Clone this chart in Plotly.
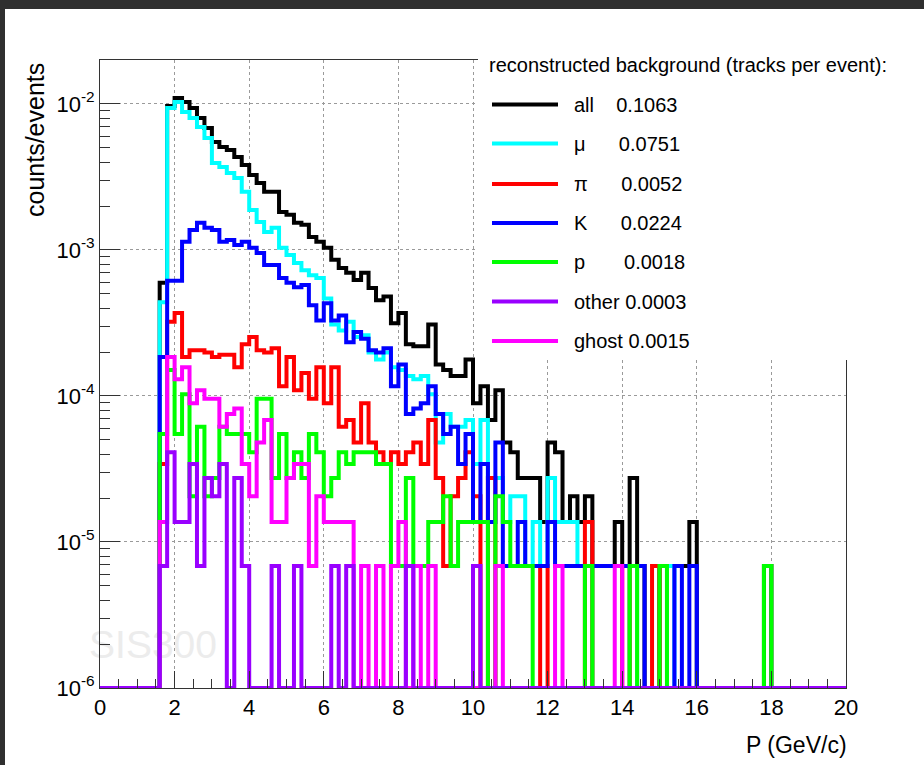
import numpy as np
import plotly.graph_objects as go

# ---------------- data ----------------
P_MIN, P_MAX, N_BINS = 0.0, 20.0, 100
FIRST_BIN = 8                 # first filled bin: P = 1.6 GeV/c
N_EVENTS = 146000.0           # histogram counts -> counts/events

counts_all = [87, 1415, 1604, 1507, 1371, 1171, 1000, 802, 741, 707,
              633, 558, 476, 420, 365, 365, 266, 254, 224, 217,
              179, 166, 151, 125, 110, 102, 91, 102, 80, 66,
              70, 46, 54, 33, 32, 32, 45, 24, 22, 20,
              20, 26, 13, 17, 10, 16, 7, 6, 4, 4,
              4, 2, 7, 6, 2, 3, 2, 3, 1, 1,
              1, 2, 1, 4, 1, 0, 0, 1, 1, 1,
              1, 2, 0, 0, 0, 0, 0, 0, 0, 0, 0, 1]
counts_mu = [64, 1371, 1507, 1288, 1171, 1016, 855, 576, 540, 492,
             455, 365, 274, 227, 194, 207, 151, 135, 119, 106,
             98, 94, 68, 45, 41, 47, 37, 38, 29, 26,
             29, 23, 22, 20, 19, 20, 15, 7, 11, 9,
             9, 10, 5, 10, 4, 4, 2, 3, 3, 1,
             2, 1, 4, 2, 2, 2, 1, 1, 0, 0,
             0, 0, 0, 1, 0, 0, 0, 0, 1, 0]
counts_pi = [5, 47, 54, 27, 30, 30, 29, 27, 28, 28,
             23, 33, 37, 30, 29, 31, 17, 27, 16, 21,
             14, 23, 13, 23, 9, 10, 7, 13, 7, 6,
             5, 6, 5, 6, 7, 5, 10, 4, 1, 3,
             4, 6, 3, 0, 4, 0, 0, 0, 0, 0,
             0, 1, 0, 0, 0, 0, 0, 2, 0, 0,
             0, 0, 1, 0, 0, 0, 1, 0, 0, 0]
counts_k = [27, 90, 90, 166, 200, 224, 207, 200, 166, 171,
            158, 166, 151, 139, 115, 115, 94, 87, 81, 84,
            61, 48, 63, 48, 52, 34, 40, 36, 30, 29,
            31, 17, 24, 11, 12, 13, 17, 11, 8, 9,
            5, 8, 2, 5, 2, 7, 1, 1, 2, 1,
            1, 1, 2, 1, 1, 1, 1, 1, 1, 1,
            1, 1, 1, 1, 1, 0, 0, 0, 0, 1, 0, 1]
counts_p = [8, 22, 8, 15, 3, 9, 3, 4, 9, 8,
            8, 8, 6, 14, 14, 4, 8, 4, 6, 4,
            8, 6, 3, 4, 6, 5, 6, 6, 6, 5,
            5, 1, 1, 4, 1, 1, 2, 2, 3, 1,
            2, 2, 2, 2, 0, 3, 2, 1, 1, 1,
            0, 0, 0, 0, 0, 0, 0, 1, 0, 0,
            0, 0, 0, 1, 0, 0, 0, 1, 0, 0,
            0, 0, 0, 0, 0, 0, 0, 0, 0, 0, 0, 1]
counts_ghost = [2, 27, 19, 23, 13, 16, 14, 14, 9, 11,
                12, 5, 3, 7, 10, 2, 2, 4, 5, 5,
                1, 3, 2, 2, 2, 2, 0, 1, 0, 1,
                0, 1, 2, 0, 1, 0, 1, 0, 0, 0,
                0, 0, 0, 0, 0, 1, 0, 0, 0, 0,
                0, 0, 0, 1, 0, 0, 0, 0, 0, 0,
                0, 1]
counts_other = [1, 6, 2, 2, 5, 1, 4, 3, 5, 0,
                4, 1, 0, 0, 0, 1, 0, 0, 1, 0,
                0, 0, 0, 1, 0, 1, 0, 0, 0, 0,
                0, 0, 0, 1, 0, 0, 0, 0, 0, 0,
                0, 0, 1]

legend_names = ["all", "μ", "π", "K", "p", "other", "ghost"]
legend_totals = ["0.1063", "0.0751", "0.0052", "0.0224", "0.0018", "0.0003", "0.0015"]
legend_title = "reconstructed background (tracks per event):"
x_tick_vals = [0, 2, 4, 6, 8, 10, 12, 14, 16, 18, 20]
y_tick_vals = [1e-6, 1e-5, 1e-4, 1e-3, 1e-2]
y_tick_text = ["10<sup>-6</sup>", "10<sup>-5</sup>", "10<sup>-4</sup>",
               "10<sup>-3</sup>", "10<sup>-2</sup>"]
Y_MIN, Y_MAX = 1e-6, 2e-2

# ---------------- style ----------------
colors = {"all": "#000000", "μ": "#00ffff", "π": "#ff0000", "K": "#0000ff",
          "p": "#00ff00", "other": "#9900ff", "ghost": "#ff00ff"}
series = {"all": counts_all, "μ": counts_mu, "π": counts_pi, "K": counts_k,
          "p": counts_p, "other": counts_other, "ghost": counts_ghost}
draw_order = ["all", "μ", "π", "K", "p", "ghost", "other"]
legend_pad = [4, 6, 6, 6, 7, 1, 1]
FONT = "Liberation Sans, Arial, sans-serif"

W, H = 924, 765
ML, MR, MT, MB = 100, 78, 60, 77
PW, PH = W - ML - MR, H - MT - MB


def fx(px):  # page pixel -> paper x
    return (px - ML) / PW


def fy(py):  # page pixel (from top) -> paper y
    return (H - MB - py) / PH


edges = np.linspace(P_MIN, P_MAX, N_BINS + 1)

fig = go.Figure()
for name in draw_order:
    c = np.zeros(N_BINS)
    vals = np.array(series[name], dtype=float)
    c[FIRST_BIN:FIRST_BIN + len(vals)] = vals
    v = c / N_EVENTS
    v = np.where(v > 0, v, Y_MIN)          # empty bins drawn at the axis minimum
    fig.add_trace(go.Scatter(
        x=edges, y=np.append(v, v[-1]), mode="lines",
        line=dict(shape="hv", width=4, color=colors[name]),
        showlegend=False, hoverinfo="skip"))

axis_common = dict(
    showline=True, linecolor="#333333", linewidth=1, mirror=True,
    ticks="inside", tickcolor="#333333", tickwidth=1,
    showgrid=True, gridcolor="#9a9a9a", gridwidth=1, griddash="dot",
    zeroline=False, tickfont=dict(family=FONT, size=22, color="black"),
)
fig.update_xaxes(range=[P_MIN, P_MAX], tickmode="array", tickvals=x_tick_vals,
                 ticklen=17,
                 minor=dict(dtick=0.5, ticks="inside", ticklen=9,
                            tickcolor="#333333", showgrid=False),
                 **axis_common)
fig.update_yaxes(type="log", range=[np.log10(Y_MIN), np.log10(Y_MAX)],
                 tickmode="array", tickvals=y_tick_vals, ticktext=y_tick_text,
                 ticklen=20,
                 minor=dict(dtick="D1", ticks="inside", ticklen=10,
                            tickcolor="#333333", showgrid=False),
                 **axis_common)

shapes = []
annotations = []

# watermark (below the histograms)
shapes.append(dict(type="rect", xref="paper", yref="paper",
                   x0=fx(88), x1=fx(218), y0=fy(662), y1=fy(618),
                   line=dict(width=0), fillcolor="rgba(0,0,0,0)", layer="below",
                   label=dict(text="SIS300", textposition="middle center",
                              font=dict(family=FONT, size=39, color="#ececec"))))

# legend box
shapes.append(dict(type="rect", xref="paper", yref="paper",
                   x0=fx(478), x1=fx(W), y0=fy(360), y1=fy(40),
                   line=dict(width=0), fillcolor="white", layer="above"))
leg_y = [104.5, 143.5, 184, 223, 262, 301.5, 341]
for i, name in enumerate(legend_names):
    shapes.append(dict(type="line", xref="paper", yref="paper",
                       x0=fx(492), x1=fx(558), y0=fy(leg_y[i]), y1=fy(leg_y[i]),
                       line=dict(color=colors[name], width=4), layer="above"))
    annotations.append(dict(xref="paper", yref="paper", x=fx(572), y=fy(leg_y[i]),
                            xanchor="left", yanchor="middle", showarrow=False,
                            text=name + "\u00a0" * legend_pad[i] + legend_totals[i],
                            font=dict(family=FONT, size=20, color="black")))
annotations.append(dict(xref="paper", yref="paper", x=fx(487), y=fy(65),
                        xanchor="left", yanchor="middle", showarrow=False,
                        text=legend_title,
                        font=dict(family=FONT, size=20, color="black")))

# axis titles
annotations.append(dict(xref="paper", yref="paper", x=fx(35), y=fy(140),
                        xanchor="center", yanchor="middle", showarrow=False,
                        textangle=-90, text="counts/events",
                        font=dict(family=FONT, size=25, color="black")))
annotations.append(dict(xref="paper", yref="paper", x=fx(849), y=fy(745),
                        xanchor="right", yanchor="middle", showarrow=False,
                        text="P (GeV/c)",
                        font=dict(family=FONT, size=23, color="black")))

# dark window edges
shapes.append(dict(type="rect", xref="paper", yref="paper",
                   x0=fx(0), x1=fx(W), y0=fy(9), y1=fy(0),
                   line=dict(width=0), fillcolor="#2f2f2f", layer="above"))
shapes.append(dict(type="rect", xref="paper", yref="paper",
                   x0=fx(0), x1=fx(5), y0=fy(H), y1=fy(0),
                   line=dict(width=0), fillcolor="#2f2f2f", layer="above"))

fig.update_layout(
    width=W, height=H, autosize=False,
    margin=dict(l=ML, r=MR, t=MT, b=MB, pad=0),
    paper_bgcolor="white", plot_bgcolor="white",
    shapes=shapes, annotations=annotations,
    font=dict(family=FONT, color="black"),
)

fig.write_html("out.html", config={"displayModeBar": False},
               post_script="document.body.style.margin='0';"
                           "document.body.style.overflow='hidden';")
